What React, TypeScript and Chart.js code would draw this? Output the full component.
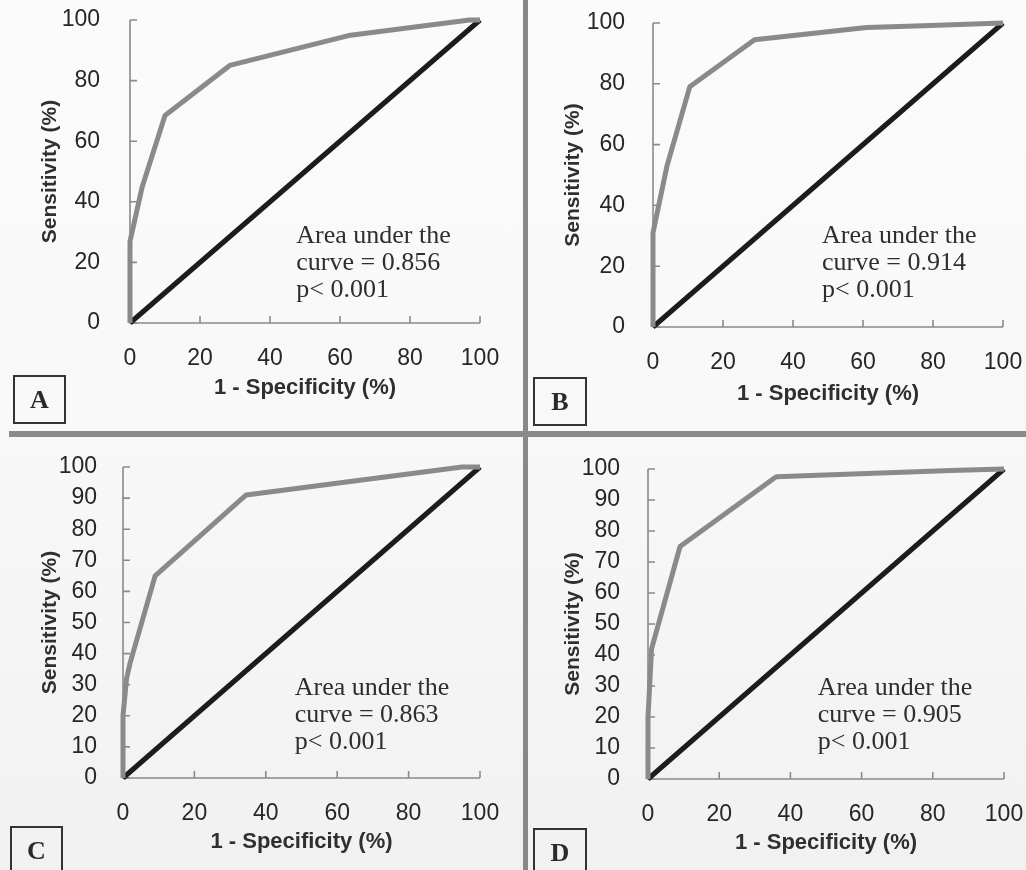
import React, { useEffect, useRef } from "react";
import { Chart, registerables } from "chart.js";

Chart.register(...registerables);

// ---------- data ----------
const panelLetters = ["A", "B", "C", "D"];
const xTickValues = [0, 20, 40, 60, 80, 100];
const yTickValuesTop = [0, 20, 40, 60, 80, 100];
const yTickValuesBottom = [0, 10, 20, 30, 40, 50, 60, 70, 80, 90, 100];

const fprA = [0, 0, 3.5, 10, 28.5, 63, 97, 100];
const tprA = [0, 27, 45, 68.5, 85, 95, 100, 100];

const fprB = [0, 0, 4, 10.5, 29, 61, 75, 100];
const tprB = [0, 31, 53, 79, 94.5, 98.5, 99, 100];

const fprC = [0, 0, 1, 2, 9, 34.5, 95, 100];
const tprC = [0, 20, 32, 37, 65, 91, 100, 100];

const fprD = [0, 0, 1, 9, 36, 85, 100];
const tprD = [0, 20, 42, 75, 97.5, 99.5, 100];

const refX = [0, 100];
const refY = [0, 100];

const aucValues = ["0.856", "0.914", "0.863", "0.905"];
const pText = "p< 0.001";
const xTitle = "1 - Specificity (%)";
const yTitle = "Sensitivity (%)";

// annotation anchors in data units (x, y of first baseline)
const noteX = [47.5, 48.3, 48.1, 47.7];
const noteY = [26.5, 27.6, 26.7, 27.2];

// ---------- layout ----------
type Panel = {
  l: number; t: number; r: number; b: number;
  yW: number; xH: number; yPad: number;
};
const panels: Panel[] = [
  { l: 130, t: 20, r: 480, b: 323, yW: 92, xH: 78, yPad: 22 },
  { l: 653, t: 23, r: 1003, b: 327, yW: 92, xH: 80, yPad: 20 },
  { l: 123, t: 467, r: 480, b: 778, yW: 85, xH: 77, yPad: 18 },
  { l: 648, t: 469, r: 1004, b: 779, yW: 87, xH: 77, yPad: 20 },
];
const PAD = 45;
const boxes = [
  { x: 13, y: 375, w: 53, h: 49 },
  { x: 533, y: 377, w: 54, h: 49 },
  { x: 10, y: 826, w: 53, h: 50 },
  { x: 533, y: 828, w: 54, h: 50 },
];

const SANS = "'Liberation Sans', Arial, sans-serif";
const SERIF = "'Liberation Serif', 'Times New Roman', serif";

function makeAxisPlugin(idx: number) {
  return {
    id: "axesAndNote" + idx,
    beforeDatasetsDraw(chart: any) {
      const { ctx, chartArea } = chart;
      const xs = chart.scales.x;
      const ys = chart.scales.y;
      ctx.save();
      ctx.strokeStyle = "#8a8a8a";
      ctx.lineWidth = 1.6;
      ctx.beginPath();
      ctx.moveTo(chartArea.left, chartArea.top);
      ctx.lineTo(chartArea.left, chartArea.bottom);
      ctx.lineTo(chartArea.right, chartArea.bottom);
      ctx.stroke();
      ctx.beginPath();
      ys.ticks.forEach((tk: any) => {
        const py = ys.getPixelForValue(tk.value);
        ctx.moveTo(chartArea.left, py);
        ctx.lineTo(chartArea.left + 7, py);
      });
      xs.ticks.forEach((tk: any) => {
        const px = xs.getPixelForValue(tk.value);
        ctx.moveTo(px, chartArea.bottom);
        ctx.lineTo(px, chartArea.bottom - 7);
      });
      ctx.stroke();
      ctx.restore();
    },
    afterDraw(chart: any) {
      const { ctx } = chart;
      const xs = chart.scales.x;
      const ys = chart.scales.y;
      const px = xs.getPixelForValue(noteX[idx]);
      const py = ys.getPixelForValue(noteY[idx]);
      const lines = ["Area under the", "curve = " + aucValues[idx], pText];
      ctx.save();
      ctx.fillStyle = "#2e2e2e";
      ctx.font = "26px " + SERIF;
      ctx.textAlign = "left";
      ctx.textBaseline = "alphabetic";
      lines.forEach((s, i) => ctx.fillText(s, px, py + i * 27));
      ctx.restore();
    },
  };
}

const seriesX = [fprA, fprB, fprC, fprD];
const seriesY = [tprA, tprB, tprC, tprD];

function canvasRect(p: Panel) {
  const cx = p.l - p.yW - PAD;
  const cy = p.t - PAD;
  const cw = p.r + PAD - cx;
  const ch = p.b + p.xH + 10 - cy;
  return { cx, cy, cw, ch };
}

export default function App() {
  const refs = [useRef<HTMLCanvasElement>(null), useRef<HTMLCanvasElement>(null), useRef<HTMLCanvasElement>(null), useRef<HTMLCanvasElement>(null)];

  useEffect(() => {
    const charts: Chart[] = [];
    panels.forEach((p, i) => {
      const cv = refs[i].current;
      if (!cv) return;
      const yTicks = i < 2 ? yTickValuesTop : yTickValuesBottom;
      const curve = seriesX[i].map((x, k) => ({ x, y: seriesY[i][k] }));
      const diag = refX.map((x, k) => ({ x, y: refY[k] }));
      const chart = new Chart(cv, {
        type: "scatter",
        data: {
          datasets: [
            {
              data: diag,
              showLine: true,
              borderColor: "#1c1c1c",
              borderWidth: 5,
              pointRadius: 0,
              clip: false as any,
              order: 2,
            },
            {
              data: curve,
              showLine: true,
              borderColor: "#8a8a8a",
              borderWidth: 5,
              pointRadius: 0,
              clip: false as any,
              order: 1,
              borderJoinStyle: "round",
            } as any,
          ],
        },
        options: {
          responsive: false,
          animation: false,
          devicePixelRatio: 1,
          layout: {
            padding: { left: PAD, top: PAD, right: PAD, bottom: 10 },
          },
          plugins: { legend: { display: false }, tooltip: { enabled: false } },
          scales: {
            x: {
              type: "linear",
              min: 0,
              max: 100,
              afterBuildTicks: (s: any) => {
                s.ticks = xTickValues.map((v) => ({ value: v }));
              },
              afterFit: (s: any) => {
                s.height = p.xH;
              },
              grid: { display: false },
              border: { display: false },
              ticks: {
                padding: 14,
                color: "#262626",
                font: { family: SANS, size: 23 },
                maxRotation: 0,
              },
              title: {
                display: true,
                text: xTitle,
                color: "#2f2f2f",
                font: { family: SANS, size: 22, weight: "bold" },
                padding: 0,
              },
            },
            y: {
              type: "linear",
              min: 0,
              max: 100,
              afterBuildTicks: (s: any) => {
                s.ticks = yTicks.map((v) => ({ value: v }));
              },
              afterFit: (s: any) => {
                s.width = p.yW;
              },
              grid: { display: false },
              border: { display: false },
              ticks: {
                padding: p.yPad,
                color: "#262626",
                font: { family: SANS, size: 23 },
              },
              title: {
                display: true,
                text: yTitle,
                color: "#2f2f2f",
                font: { family: SANS, size: 21, weight: "bold" },
                padding: 0,
              },
            },
          },
        } as any,
        plugins: [makeAxisPlugin(i)],
      });
      charts.push(chart);
    });
    return () => charts.forEach((c) => c.destroy());
  }, []);

  return (
    <div
      style={{
        position: "absolute",
        left: 0,
        top: 0,
        width: 1026,
        height: 870,
        overflow: "hidden",
        background: "linear-gradient(#fbfbfb 0%, #f8f8f8 50%, #f1f1f1 100%)",
      }}
    >
      {panels.map((p, i) => {
        const r = canvasRect(p);
        return (
          <canvas
            key={"c" + i}
            ref={refs[i]}
            width={r.cw}
            height={r.ch}
            style={{ position: "absolute", left: r.cx, top: r.cy, width: r.cw, height: r.ch }}
          />
        );
      })}
      <div style={{ position: "absolute", left: 523, top: 0, width: 5, height: 870, background: "#888" }} />
      <div style={{ position: "absolute", left: 9, top: 431, width: 1017, height: 6, background: "#8a8a8a" }} />
      {boxes.map((bx, i) => (
        <div
          key={"b" + i}
          style={{
            position: "absolute",
            left: bx.x,
            top: bx.y,
            width: bx.w,
            height: bx.h,
            boxSizing: "border-box",
            border: "2px solid #333",
            display: "flex",
            alignItems: "center",
            justifyContent: "center",
            fontFamily: SERIF,
            fontWeight: "bold",
            fontSize: 26,
            color: "#2a2a2a",
          }}
        >
          {panelLetters[i]}
        </div>
      ))}
    </div>
  );
}
